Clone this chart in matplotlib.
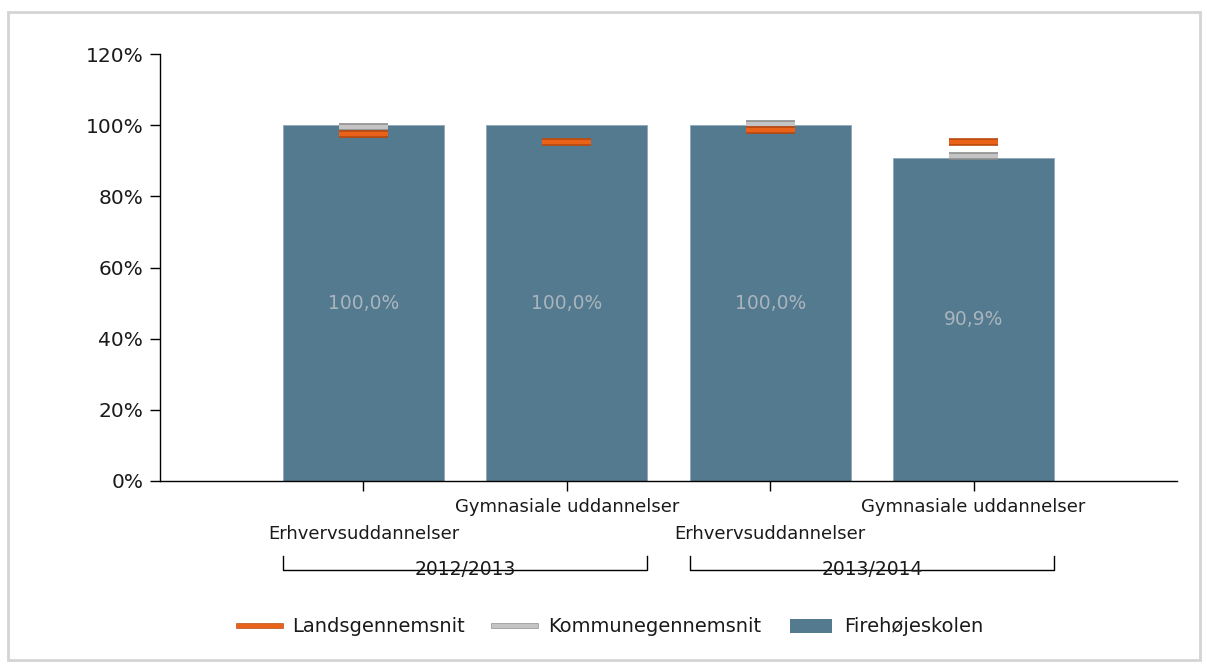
import matplotlib
matplotlib.use("Agg")
import matplotlib.pyplot as plt
import matplotlib.patheffects as pe
from matplotlib.patches import Rectangle, Patch
from matplotlib.lines import Line2D
import numpy as np

plt.rcParams['font.family'] = ['DejaVu Sans']

# data
categories = ["Erhvervsuddannelser", "Gymnasiale uddannelser",
              "Erhvervsuddannelser", "Gymnasiale uddannelser"]
years = ["2012/2013", "2013/2014"]
skole = [100.0, 100.0, 100.0, 90.9]
kommune = [99.4, 95.2, 100.4, 91.4]
lands = [97.5, 95.2, 98.6, 95.3]
yticks = [0, 20, 40, 60, 80, 100, 120]

bar_color = "#537a8e"
orange = "#e8621a"
text_col = "#1a1a1a"

fig = plt.figure(figsize=(12.07, 6.66), dpi=100)
ax = fig.add_axes([160 / 1207, 185 / 666, 1017 / 1207, 427 / 666])

x = np.arange(len(skole))
ax.bar(x, skole, width=0.79, color=bar_color, edgecolor="#8fa8b6", linewidth=0.6, zorder=2)
for xi, v in zip(x, skole):
    ax.text(xi, v / 2, f"{v:.1f}%".replace(".", ","), ha="center", va="center",
            color="#aab4bd", fontsize=13.5, zorder=3)

# average markers
ax.plot(x, kommune, linestyle="none", marker="_", markersize=35, markeredgewidth=3.2,
        color="#c4c4c4", zorder=4,
        path_effects=[pe.Stroke(linewidth=5.5, foreground="#8c8c8c"), pe.Normal()])
ax.plot(x, lands, linestyle="none", marker="_", markersize=35, markeredgewidth=3.2,
        color=orange, zorder=5,
        path_effects=[pe.Stroke(linewidth=5.5, foreground="#b8460c"), pe.Normal()])

ax.set_xlim(-1, 4)
ax.set_ylim(0, 120)
ax.set_yticks(yticks)
ax.set_yticklabels([f"{t}%" for t in yticks], fontsize=14.5, color=text_col)
ax.set_xticks(x)
ax.set_xticklabels([])
ax.tick_params(axis="y", length=7, width=1, pad=5)
ax.tick_params(axis="x", length=7, width=1, direction="out")
for s in ["top", "right"]:
    ax.spines[s].set_visible(False)
ax.spines["left"].set_linewidth(1)
ax.spines["bottom"].set_linewidth(1)

# staggered category labels
trans = ax.get_xaxis_transform()
for i, lab in enumerate(categories):
    yy = -0.125 if i % 2 == 0 else -0.06
    ax.text(i, yy, lab, transform=trans, ha="center", va="center", fontsize=13,
            color=text_col)

# group brackets
for g, yr in enumerate(years):
    left = 2 * g - 0.395
    right = 2 * g + 1 + 0.395
    yb = -0.208
    ax.plot([left, left, right, right], [yb + 0.033, yb, yb, yb + 0.033],
            transform=trans, color="black", lw=1, clip_on=False)
    ax.text((left + right) / 2, yb, yr, transform=trans, ha="center", va="center",
            fontsize=13.5, color=text_col)

# legend
handles = [Line2D([], [], color=orange, lw=3,
                  path_effects=[pe.Stroke(linewidth=4, foreground="#b8460c"), pe.Normal()]),
           Line2D([], [], color="#c4c4c4", lw=3,
                  path_effects=[pe.Stroke(linewidth=4, foreground="#8c8c8c"), pe.Normal()]),
           Patch(facecolor=bar_color)]
leg = fig.legend(handles, ["Landsgennemsnit", "Kommunegennemsnit", "Firehøjeskolen"],
                 loc="center", bbox_to_anchor=(611 / 1207, 1 - 627 / 666), ncol=3,
                 frameon=False, fontsize=14, handlelength=2.15, columnspacing=1.5,
                 handletextpad=0.6)
for t in leg.get_texts():
    t.set_color(text_col)

# outer frame
fig.patches.append(Rectangle((8 / 1207, 6 / 666), 1192 / 1207, 648 / 666,
                             transform=fig.transFigure, fill=False,
                             edgecolor="#d4d4d4", lw=2))

fig.savefig("out.png", dpi=100)
